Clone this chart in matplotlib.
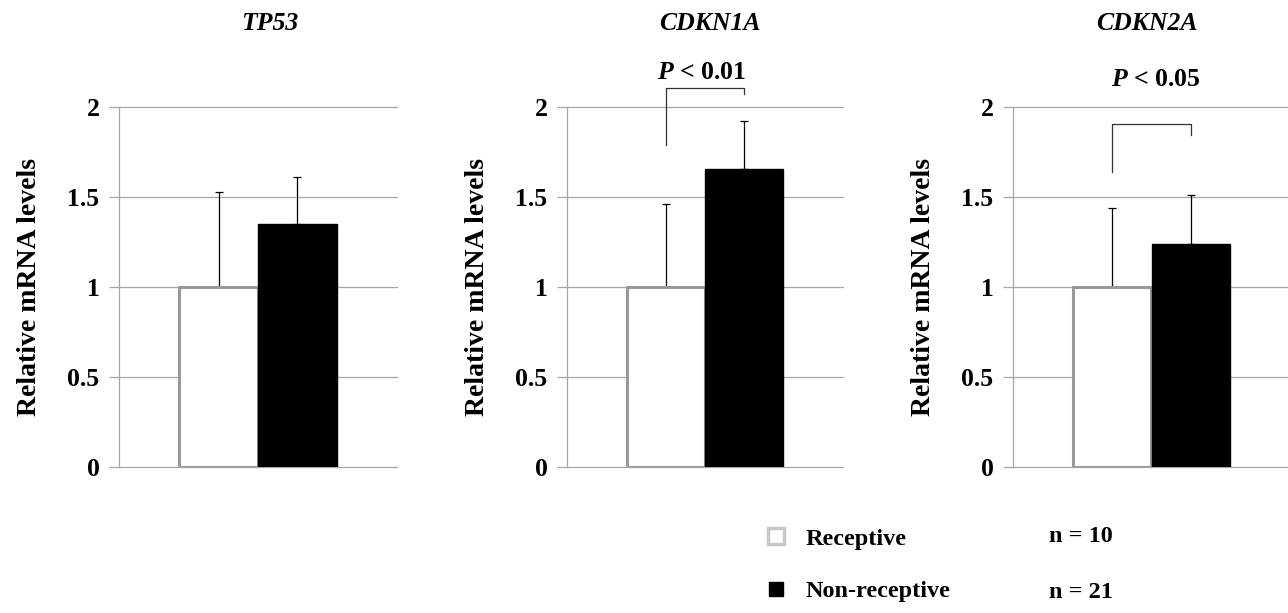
import matplotlib
matplotlib.use("Agg")
import matplotlib.pyplot as plt
from matplotlib.lines import Line2D

plt.rcParams["font.family"] = ["Liberation Serif", "DejaVu Serif"]
plt.rcParams["font.weight"] = "bold"
plt.rcParams["mathtext.fontset"] = "custom"
plt.rcParams["mathtext.it"] = "Liberation Serif:italic:bold"
plt.rcParams["mathtext.rm"] = "Liberation Serif:bold"

# data
genes = ["TP53", "CDKN1A", "CDKN2A"]
groups = ["Receptive", "Non-receptive"]
group_n = [10, 21]
receptive_mean = [1.0, 1.0, 1.0]
receptive_err = [0.53, 0.46, 0.44]
nonreceptive_mean = [1.35, 1.655, 1.24]
nonreceptive_err = [0.26, 0.265, 0.27]
p_labels = [None, "0.01", "0.05"]
# bracket: (top, left leg bottom, right leg bottom, text x, text y)
brackets = [None, (2.105, 1.79, 2.07, 0.45, 2.19), (1.905, 1.64, 1.845, 0.55, 2.15)]

yticks = [0, 0.5, 1, 1.5, 2]
ytick_labels = ["0", "0.5", "1", "1.5", "2"]

W, H = 1288, 613
fig = plt.figure(figsize=(W / 100, H / 100), dpi=100)

axes_left = [119, 567, 1013]
axes_right = [397, 843, 1290]
title_x = [0.543, 0.518, 0.484]
y_top, y_bot = 107, 467
grid_col = "#a6a6a6"
fs = 18.5

for i, gene in enumerate(genes):
    ax = fig.add_axes([axes_left[i] / W, 1 - y_bot / H,
                       (axes_right[i] - axes_left[i]) / W, (y_bot - y_top) / H])
    ax.bar(0, receptive_mean[i], width=1, color="white", edgecolor="#999999",
           linewidth=2.2, zorder=3)
    ax.bar(1, nonreceptive_mean[i], width=1, color="black", edgecolor="black",
           linewidth=1, zorder=3)
    ax.errorbar([0, 1], [receptive_mean[i], nonreceptive_mean[i]],
                yerr=[[0, 0], [receptive_err[i], nonreceptive_err[i]]],
                fmt="none", ecolor="black", elinewidth=0.9, capsize=3,
                capthick=0.9, zorder=2)
    ax.set_ylim(0, 2)
    ax.set_xlim(-1.26, 2.26)
    ax.set_yticks(yticks)
    ax.set_yticklabels(ytick_labels, fontsize=fs, fontweight="bold")
    ax.set_xticks([])
    ax.yaxis.grid(True, color=grid_col, linewidth=0.9)
    for gl in ax.get_ygridlines():
        gl.set_clip_on(False)
    ax.set_axisbelow(True)
    for s in ["top", "right", "bottom"]:
        ax.spines[s].set_visible(False)
    ax.spines["left"].set_color(grid_col)
    ax.spines["left"].set_linewidth(0.9)
    ax.tick_params(axis="y", length=7, color=grid_col, width=0.9, pad=7)
    ax.set_ylabel("Relative mRNA levels", fontsize=20, fontweight="bold",
                  labelpad=18)
    ax.text(title_x[i], (y_bot - 23) / (y_bot - y_top), gene, transform=ax.transAxes,
            ha="center", va="center", fontsize=fs, fontweight="bold", style="italic")

    if brackets[i] is not None:
        top, lb, rb, tx, ty = brackets[i]
        ax.plot([0, 0, 1, 1], [lb, top, top, rb], color="#333333",
                linewidth=0.9, clip_on=False)
        ax.text(tx, ty, r"$P$ < " + p_labels[i], ha="center", va="center",
                fontsize=fs, fontweight="bold", clip_on=False)

# legend
handles = [
    Line2D([], [], marker="s", linestyle="none", markersize=11,
           markerfacecolor="white", markeredgecolor="#c8c8c8", markeredgewidth=2.5),
    Line2D([], [], marker="s", linestyle="none", markersize=10,
           markerfacecolor="black", markeredgecolor="black"),
]
fig.legend(handles, groups, loc="center left", bbox_to_anchor=(742 / W, 1 - 565 / H),
           frameon=False, prop={"size": 17.5, "weight": "bold"}, handlelength=1,
           handletextpad=0.7, labelspacing=1.25)
for k, n in enumerate(group_n):
    fig.text(1049 / W, 1 - (537 + 56 * k) / H, f"n = {n}", fontsize=17.5,
             fontweight="bold", va="center", ha="left")

fig.savefig("out.png", dpi=100)
